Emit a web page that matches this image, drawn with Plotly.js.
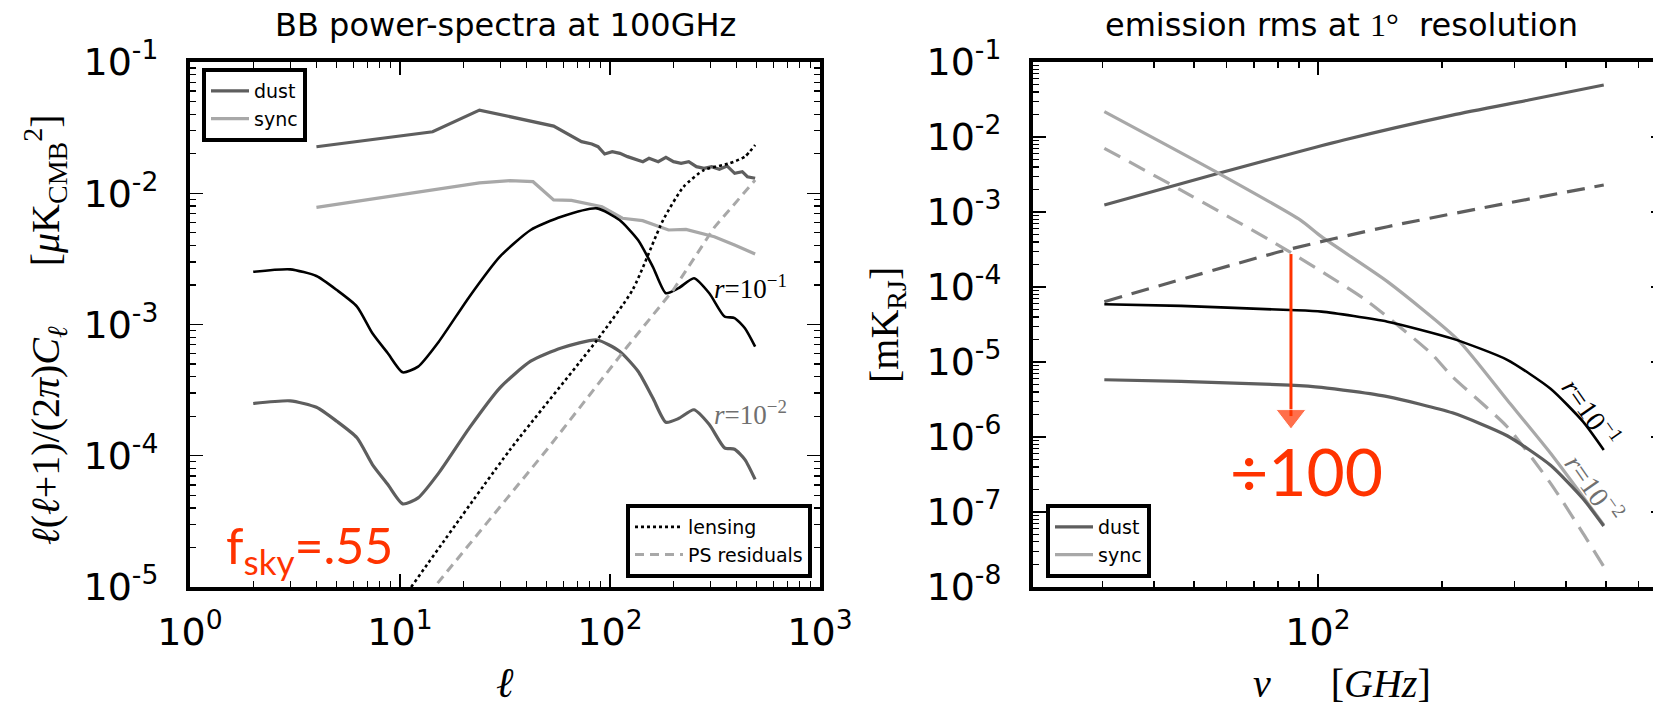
<!DOCTYPE html>
<html><head><meta charset="utf-8">
<script src="https://cdn.plot.ly/plotly-3.0.1.min.js"></script>
<style>html,body{margin:0;padding:0;overflow:hidden;background:#fff}#chart{width:1670px;height:706px}</style>
</head><body><div id="chart"></div><script>
// ---------- left panel: BB power spectra at 100 GHz ----------
const ellDust = [4, 14.3, 23.9, 53.9, 73.2, 81.9, 87.7, 94.3, 102.5, 111.5, 121.2, 131.8, 143.4, 153.4, 169.7, 184.6, 200.6, 218.1, 237.2, 257.9, 280.5, 305, 331.7, 360.7, 392.3, 426.6, 451, 491];
const clDust = [0.0226, 0.0294, 0.043, 0.0325, 0.02472, 0.02371, 0.02264, 0.01991, 0.02075, 0.02014, 0.01901, 0.01813, 0.0174, 0.01845, 0.0174, 0.01879, 0.0174, 0.0169, 0.0174, 0.01595, 0.01549, 0.01595, 0.01521, 0.01614, 0.01419, 0.01459, 0.01337, 0.013];
const ellSync = [4, 23.9, 33.4, 43, 53.9, 65.5, 91.6, 114.6, 143, 190, 230, 314, 392, 491];
const clSync = [0.00781, 0.012, 0.01247, 0.01225, 0.0089, 0.00882, 0.0079, 0.00645, 0.00618, 0.00525, 0.0053, 0.00467, 0.00403, 0.00344];
const ellR = [2, 3, 4, 5, 6.24, 7.39, 8.75, 10.3, 12.2, 15.3, 21.4, 29.9, 41.9, 58.6, 86.7, 111, 136, 160, 184.5, 212, 251, 297, 351, 392, 439, 491];
const clR1 = [0.00252, 0.00263, 0.00234, 0.00183, 0.00137, 0.000857, 0.000604, 0.000432, 0.000478, 0.00074, 0.00163, 0.00329, 0.00525, 0.00662, 0.00767, 0.00625, 0.0044, 0.00275, 0.00173, 0.00189, 0.00225, 0.00173, 0.00115, 0.00112, 0.000935, 0.000678];
const clR2 = [0.00025, 0.000262, 0.000234, 0.000183, 0.000137, 0.0000857, 0.0000604, 0.000043, 0.0000478, 0.000074, 0.000163, 0.000329, 0.000525, 0.000662, 0.000762, 0.000625, 0.00044, 0.000275, 0.00018, 0.000192, 0.000224, 0.000173, 0.000115, 0.000112, 0.0000935, 0.000066];
const ellLens = [11.3, 33.4, 86.7, 128, 179, 224, 280, 371, 439, 491];
const clLens = [0.00001, 0.000111, 0.00076, 0.00183, 0.00625, 0.0112, 0.015, 0.0169, 0.019, 0.0233];
const ellPS = [15.1, 50.9, 121, 200, 314, 491];
const clPS = [0.0000107, 0.000115, 0.00068, 0.00183, 0.0055, 0.0126];

// ---------- right panel: emission rms at 1 degree ----------
const nuDust = [30.3, 57.4, 115.6, 212, 325, 494];
const rmsDust = [0.00124, 0.00328, 0.00912, 0.0196, 0.0311, 0.0493];
const nuDustRes = [30.3, 82.6, 147.5, 288, 494];
const rmsDustRes = [0.0000637, 0.000305, 0.000637, 0.00131, 0.00229];
const nuSync = [30.3, 57.4, 90.7, 102, 147.5, 219, 288, 367, 440, 494];
const rmsSync = [0.0218, 0.00328, 0.00078, 0.000469, 0.000118, 0.0000196, 0.00000311, 0.000000607, 0.00000016, 0.000000067];
const nuSyncRes = [30.3, 46.5, 82.6, 130.6, 188, 212, 288, 367, 440, 494];
const rmsSyncRes = [0.00707, 0.00196, 0.000328, 0.0000671, 0.0000131, 0.00000637, 0.00000137, 0.000000241, 0.000000052, 0.0000000187];
const nuCMB = [30.3, 46.5, 85.3, 102, 147.5, 212, 288, 367, 440, 494];
const rmsR1 = [0.000059, 0.000056, 0.0000493, 0.0000469, 0.0000345, 0.0000205, 0.0000107, 0.0000044, 0.0000016, 0.00000067];
const rmsR2 = [0.0000058, 0.0000055, 0.00000493, 0.0000046, 0.00000345, 0.0000021, 0.00000104, 0.00000042, 0.00000015, 0.000000065];
const arrowNu = [86, 86];
const arrowVal = [0.000275, 0.0000019];

// tick labels
const lxTicks = [1, 10, 100, 1000];
const lxText = ['10<sup>0</sup>', '10<sup>1</sup>', '10<sup>2</sup>', '10<sup>3</sup>'];
const lyTicks = [1e-5, 1e-4, 1e-3, 1e-2, 1e-1];
const lyText = ['10<sup>-5</sup>', '10<sup>-4</sup>', '10<sup>-3</sup>', '10<sup>-2</sup>', '10<sup>-1</sup>'];
const rxTicks = [100];
const rxText = ['10<sup>2</sup>'];
const ryTicks = [1e-8, 1e-7, 1e-6, 1e-5, 1e-4, 1e-3, 1e-2, 1e-1];
const ryText = ['10<sup>-8</sup>', '10<sup>-7</sup>', '10<sup>-6</sup>', '10<sup>-5</sup>', '10<sup>-4</sup>', '10<sup>-3</sup>', '10<sup>-2</sup>', '10<sup>-1</sup>'];

function minorLog(lo, hi) { const o = []; for (let d = lo; d < hi; d++) for (let k = 2; k <= 9; k++) o.push(k * Math.pow(10, d)); return o; }

const W = 1670, H = 706;
const X = p => p / W, Y = p => 1 - p / H;
const DARK = '#5e5e5e', LIGHT = '#a8a8a8', RED = '#ff3300';
const SANS = 'DejaVu Sans', SERIF = 'Liberation Serif';
const SMOOTH = {shape: 'spline', smoothing: 0.6};

const traces = [
  {x: ellDust, y: clDust, name: 'dust', mode: 'lines', line: {color: DARK, width: 3.2}, xaxis: 'x', yaxis: 'y', legend: 'legend'},
  {x: ellSync, y: clSync, name: 'sync', mode: 'lines', line: {color: LIGHT, width: 3.2}, xaxis: 'x', yaxis: 'y', legend: 'legend'},
  {x: ellR, y: clR1, mode: 'lines', line: Object.assign({color: 'black', width: 2.6}, SMOOTH), xaxis: 'x', yaxis: 'y', showlegend: false},
  {x: ellR, y: clR2, mode: 'lines', line: Object.assign({color: DARK, width: 3.2}, SMOOTH), xaxis: 'x', yaxis: 'y', showlegend: false},
  {x: ellLens, y: clLens, name: 'lensing', mode: 'lines', line: Object.assign({color: 'black', width: 2.6, dash: '3px,3px'}, SMOOTH), xaxis: 'x', yaxis: 'y', legend: 'legend2'},
  {x: ellPS, y: clPS, name: 'PS residuals', mode: 'lines', line: {color: LIGHT, width: 3, dash: '9px,6px'}, xaxis: 'x', yaxis: 'y', legend: 'legend2'},

  {x: nuDust, y: rmsDust, name: 'dust', mode: 'lines', line: Object.assign({color: DARK, width: 3.2}, SMOOTH), xaxis: 'x2', yaxis: 'y2', legend: 'legend3'},
  {x: nuSync, y: rmsSync, name: 'sync', mode: 'lines', line: Object.assign({color: LIGHT, width: 3.2}, SMOOTH), xaxis: 'x2', yaxis: 'y2', legend: 'legend3'},
  {x: nuDustRes, y: rmsDustRes, mode: 'lines', line: Object.assign({color: DARK, width: 3.2, dash: '18px,10px'}, SMOOTH), xaxis: 'x2', yaxis: 'y2', showlegend: false},
  {x: nuSyncRes, y: rmsSyncRes, mode: 'lines', line: Object.assign({color: LIGHT, width: 3.2, dash: '18px,10px'}, SMOOTH), xaxis: 'x2', yaxis: 'y2', showlegend: false},
  {x: nuCMB, y: rmsR1, mode: 'lines', line: Object.assign({color: 'black', width: 2.6}, SMOOTH), xaxis: 'x2', yaxis: 'y2', showlegend: false},
  {x: nuCMB, y: rmsR2, mode: 'lines', line: Object.assign({color: DARK, width: 3.2}, SMOOTH), xaxis: 'x2', yaxis: 'y2', showlegend: false},
  {x: arrowNu, y: arrowVal, mode: 'lines+markers', line: {color: RED, width: 3}, marker: {symbol: 'triangle-down', size: [0, 26], color: RED}, xaxis: 'x2', yaxis: 'y2', showlegend: false}
];

const axBase = {
  type: 'log', showline: true, linecolor: 'black', linewidth: 4, mirror: 'allticks',
  ticks: 'inside', ticklen: 13, tickwidth: 1.3, tickcolor: 'black', showgrid: false, zeroline: false,
  tickfont: {family: SANS, size: 38, color: 'black'}, tickmode: 'array'
};
const minorBase = {ticks: 'inside', ticklen: 6, tickwidth: 1.3, tickcolor: 'black', showgrid: false};

const legBase = {bgcolor: 'white', bordercolor: 'black', borderwidth: 4, font: {family: SANS, size: 19, color: 'black'}, tracegroupgap: 0, itemwidth: 38};

const ann = (x, y, text, o) => Object.assign({xref: 'paper', yref: 'paper', x: X(x), y: Y(y), text: text, showarrow: false, xanchor: 'center', yanchor: 'middle'}, o || {});
const NB = '\u00a0';

const layout = {
  width: W, height: H, autosize: false,
  margin: {l: 0, r: 0, t: 0, b: 0, pad: 0},
  paper_bgcolor: 'white', plot_bgcolor: 'white',
  showlegend: true,
  xaxis: Object.assign({}, axBase, {domain: [X(190), X(820)], range: [0, 3], anchor: 'y', tickvals: lxTicks, ticktext: lxText, ticklabelstandoff: 8, minor: Object.assign({tickvals: minorLog(0, 3)}, minorBase)}),
  yaxis: Object.assign({}, axBase, {domain: [Y(587), Y(62)], range: [-5, -1], anchor: 'x', tickvals: lyTicks, ticktext: lyText, ticklabelstandoff: 20, minor: Object.assign({tickvals: minorLog(-5, -1)}, minorBase)}),
  xaxis2: Object.assign({}, axBase, {domain: [X(1033), X(1664)], range: [1.3083, 2.840], anchor: 'y2', tickvals: rxTicks, ticktext: rxText, ticklabelstandoff: 8, minor: Object.assign({tickvals: [30, 40, 50, 60, 70, 80, 90, 200, 300, 400, 500, 600]}, minorBase)}),
  yaxis2: Object.assign({}, axBase, {domain: [Y(587), Y(62)], range: [-8, -1], anchor: 'x2', tickvals: ryTicks, ticktext: ryText, ticklabelstandoff: 20, minor: Object.assign({tickvals: minorLog(-8, -1)}, minorBase)}),
  legend: Object.assign({}, legBase, {x: X(202), y: Y(68), xanchor: 'left', yanchor: 'top'}),
  legend2: Object.assign({}, legBase, {x: X(812), y: Y(578), xanchor: 'right', yanchor: 'bottom', itemwidth: 48}),
  legend3: Object.assign({}, legBase, {x: X(1046), y: Y(578), xanchor: 'left', yanchor: 'bottom'}),
  annotations: [
    ann(505, 25, 'BB power-spectra at 100GHz', {font: {family: SANS, size: 32, color: 'black'}}),
    ann(1341, 25, 'emission rms at <span style="font-family:Liberation Serif">1°</span>' + NB + NB + 'resolution', {font: {family: SANS, size: 32, color: 'black'}}),
    ann(45, 330, '<i>ℓ</i>(<i>ℓ</i>+1)/(2<i>π</i>)<i>C</i><sub><i>ℓ</i></sub>' + NB.repeat(6) + '[<i>μ</i>K<sub>CMB</sub><sup>2</sup>]', {textangle: -90, font: {family: SERIF, size: 40, color: 'black'}}),
    ann(887, 325, '[mK<sub>RJ</sub>]', {textangle: -90, font: {family: SERIF, size: 40, color: 'black'}}),
    ann(505, 683, '<i>ℓ</i>', {font: {family: SERIF, size: 42, color: 'black'}}),
    ann(1342, 683, '<i>ν</i>' + NB.repeat(6) + '[<i>GHz</i>]', {font: {family: SERIF, size: 40, color: 'black'}}),
    ann(712, 287, '<i>r</i>=10<sup>−1</sup>', {xanchor: 'left', font: {family: SERIF, size: 27, color: 'black'}}),
    ann(712, 413, '<i>r</i>=10<sup>−2</sup>', {xanchor: 'left', font: {family: SERIF, size: 27, color: '#707070'}}),
    ann(1592, 412, '<i>r</i>=10<sup>−1</sup>', {textangle: 55, font: {family: SERIF, size: 28, color: 'black'}}),
    ann(1595, 488, '<i>r</i>=10<sup>−2</sup>', {textangle: 55, font: {family: SERIF, size: 28, color: '#707070'}}),
    ann(224, 548, 'f<sub>sky</sub>=.55', {xanchor: 'left', font: {family: 'Lato', size: 50, color: RED}}),
    ann(1306, 470, '÷100', {font: {family: 'Lato', size: 66, color: RED}})
  ]
};

Plotly.newPlot('chart', traces, layout, {staticPlot: true, displayModeBar: false});
</script></body></html>
